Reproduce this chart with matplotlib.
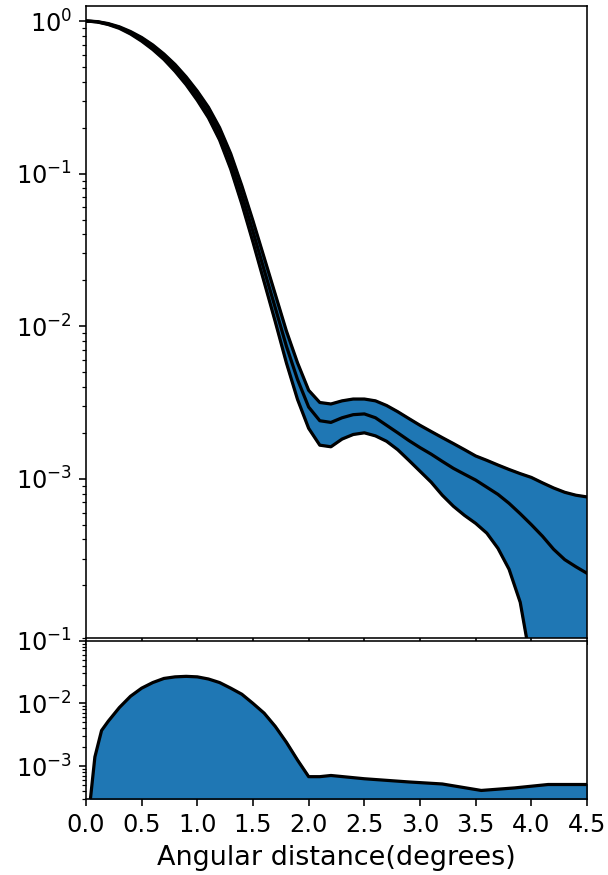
import matplotlib
matplotlib.use("Agg")
import matplotlib.pyplot as plt

# top panel: profile with upper / lower envelope, sampled every 0.1 degree
x_top = [0.0, 0.1, 0.2, 0.3, 0.4, 0.5, 0.6, 0.7, 0.8, 0.9, 1.0, 1.1, 1.2, 1.3, 1.4,
         1.5, 1.6, 1.7, 1.8, 1.9, 2.0, 2.1, 2.2, 2.3, 2.4, 2.5, 2.6, 2.7, 2.8, 2.9,
         3.0, 3.1, 3.2, 3.3, 3.4, 3.5, 3.6, 3.7, 3.8, 3.9, 4.0, 4.1, 4.2, 4.3, 4.4, 4.5]
mid = [1.0, 0.9886, 0.955, 0.906, 0.838, 0.759, 0.673, 0.583, 0.493, 0.406, 0.324,
       0.251, 0.182, 0.120, 0.0724, 0.0417, 0.0234, 0.0132, 7.4e-3, 4.47e-3, 2.95e-3,
       2.40e-3, 2.34e-3, 2.51e-3, 2.63e-3, 2.66e-3, 2.51e-3, 2.24e-3, 2.0e-3, 1.78e-3,
       1.60e-3, 1.45e-3, 1.30e-3, 1.17e-3, 1.07e-3, 9.8e-4, 8.8e-4, 7.9e-4, 6.9e-4,
       5.9e-4, 5.0e-4, 4.2e-4, 3.45e-4, 2.95e-4, 2.65e-4, 2.4e-4]
upper = [1.0, 0.991, 0.962, 0.916, 0.853, 0.780, 0.697, 0.608, 0.519, 0.430, 0.347,
         0.272, 0.200, 0.135, 0.0832, 0.049, 0.0282, 0.0162, 9.3e-3, 5.75e-3, 3.8e-3,
         3.16e-3, 3.09e-3, 3.24e-3, 3.33e-3, 3.33e-3, 3.24e-3, 3.02e-3, 2.75e-3, 2.48e-3,
         2.24e-3, 2.04e-3, 1.86e-3, 1.70e-3, 1.55e-3, 1.41e-3, 1.32e-3, 1.23e-3, 1.15e-3,
         1.08e-3, 1.02e-3, 9.4e-4, 8.7e-4, 8.15e-4, 7.8e-4, 7.6e-4]
lower = [1.0, 0.986, 0.948, 0.895, 0.822, 0.738, 0.650, 0.560, 0.468, 0.382, 0.302,
         0.232, 0.166, 0.107, 0.0631, 0.0355, 0.0195, 0.0107, 5.75e-3, 3.31e-3, 2.14e-3,
         1.66e-3, 1.62e-3, 1.82e-3, 1.95e-3, 2.0e-3, 1.91e-3, 1.76e-3, 1.55e-3, 1.32e-3,
         1.12e-3, 9.5e-4, 7.8e-4, 6.6e-4, 5.75e-4, 5.1e-4, 4.4e-4, 3.5e-4, 2.55e-4,
         1.55e-4, 6e-5, 3e-6, 1e-7, 1e-8, 1e-9, 1e-10]

# bottom panel
x_bot = [0.0, 0.04, 0.08, 0.14, 0.2, 0.3, 0.4, 0.5, 0.6, 0.7, 0.8, 0.9, 1.0, 1.1, 1.2,
         1.3, 1.4, 1.5, 1.6, 1.7, 1.8, 1.9, 2.0, 2.1, 2.2, 2.5, 2.9, 3.2, 3.55, 3.85,
         4.15, 4.5]
diff = [1e-4, 3e-4, 1.4e-3, 3.7e-3, 5.2e-3, 8.6e-3, 1.3e-2, 1.75e-2, 2.15e-2, 2.5e-2,
        2.65e-2, 2.7e-2, 2.65e-2, 2.45e-2, 2.15e-2, 1.75e-2, 1.4e-2, 1.0e-2, 7e-3, 4.3e-3,
        2.4e-3, 1.25e-3, 6.8e-4, 6.8e-4, 7.1e-4, 6.3e-4, 5.6e-4, 5.2e-4, 4.1e-4, 4.5e-4,
        5.1e-4, 5.1e-4]

fig = plt.figure(figsize=(608 / 144, 875 / 144), dpi=144)
ax1 = fig.add_axes([0.1414, 0.2705, 0.8241, 0.723])
ax2 = fig.add_axes([0.1414, 0.0869, 0.8241, 0.1809], sharex=ax1)

ax1.fill_between(x_top, lower, upper, color="C0")
for y in (upper, mid, lower):
    ax1.plot(x_top, y, color="black", lw=1.6)
ax1.set_yscale("log")
ax1.set_ylim(9e-5, 1.26)
ax1.set_yticks([1e-3, 1e-2, 1e-1, 1.0])
ax1.tick_params(labelbottom=False, labelsize=12)

ax2.fill_between(x_bot, 1e-6, diff, color="C0")
ax2.plot(x_bot, diff, color="black", lw=1.6)
ax2.set_yscale("log")
ax2.set_ylim(3e-4, 0.1)
ax2.set_xlim(0, 4.5)
ax2.set_xticks([0.0, 0.5, 1.0, 1.5, 2.0, 2.5, 3.0, 3.5, 4.0, 4.5])
ax2.tick_params(labelsize=12)
ax2.set_xlabel("Angular distance(degrees)", fontsize=13.5)

fig.savefig("out.png", dpi=144)
